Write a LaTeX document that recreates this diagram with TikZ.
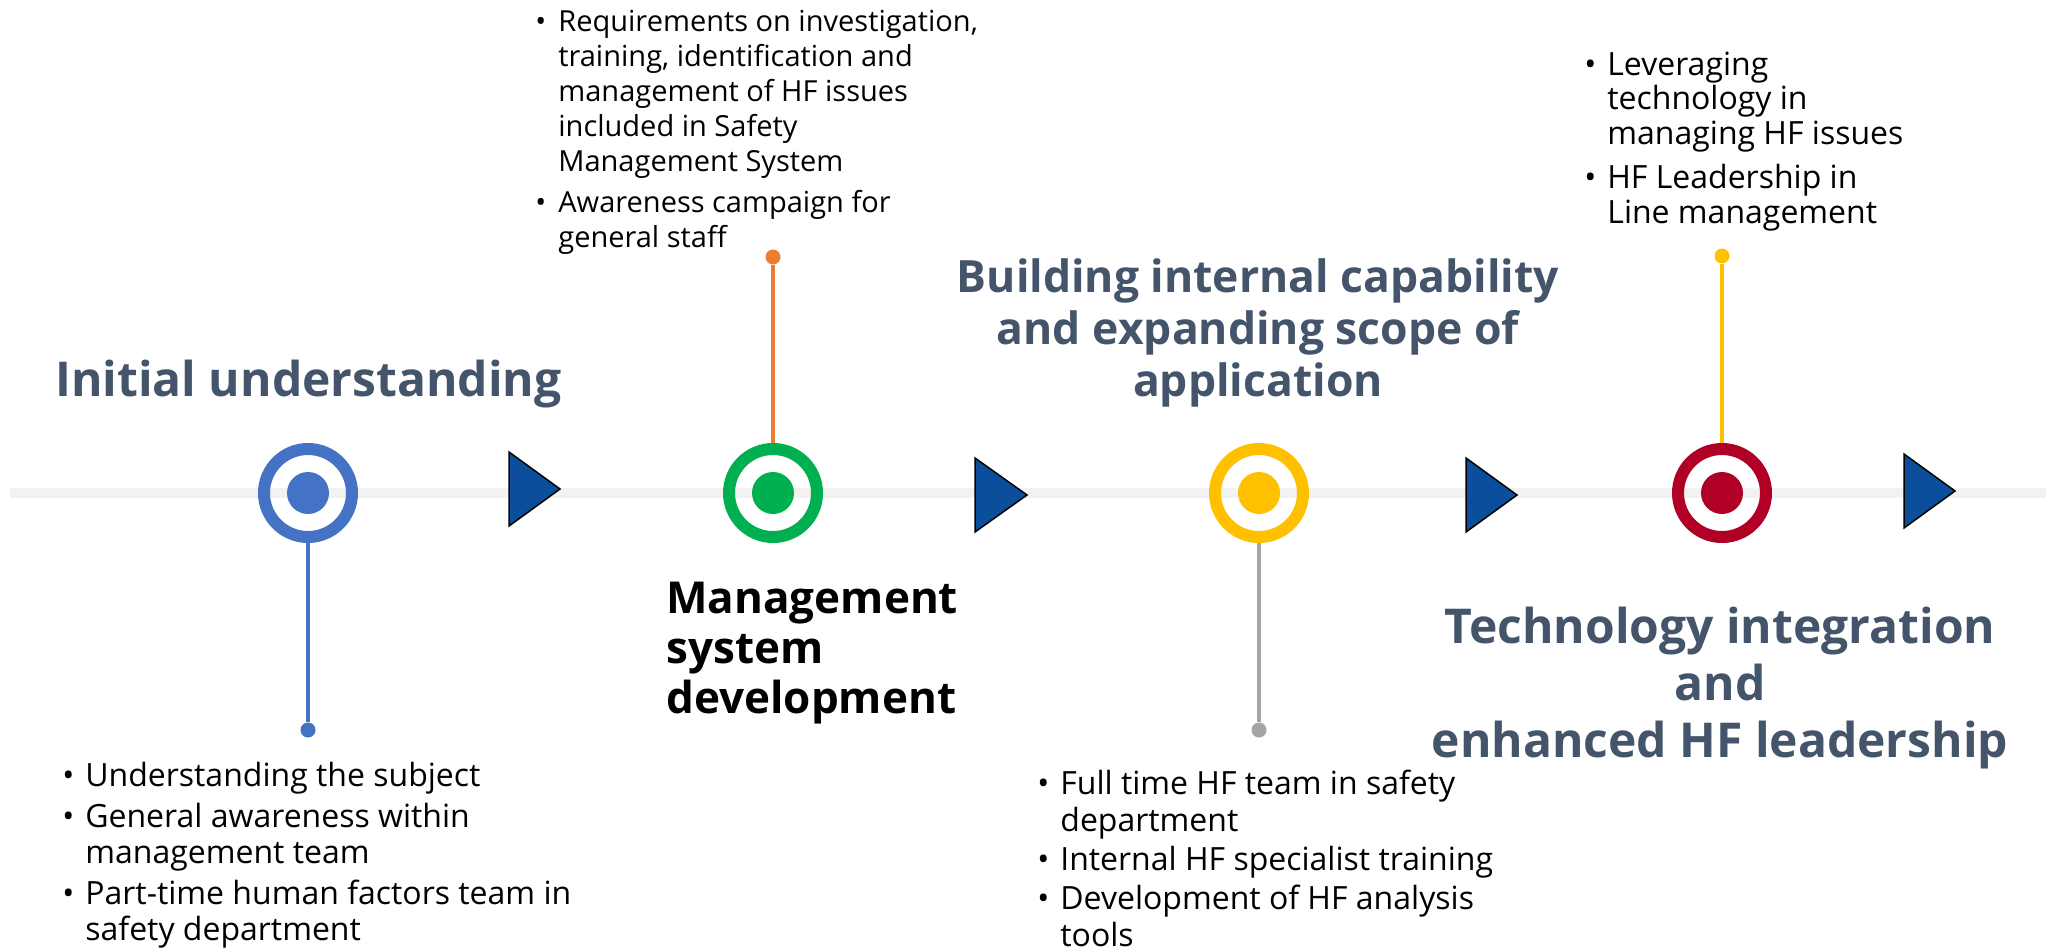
\documentclass[tikz,border=0pt]{standalone}
\usepackage{fontspec}
\setmainfont{Open Sans}

\definecolor{slate}{HTML}{44546A}
\definecolor{ringblue}{HTML}{4472C4}
\definecolor{ringgreen}{HTML}{00B050}
\definecolor{ringgold}{HTML}{FFC000}
\definecolor{ringred}{HTML}{B10026}
\definecolor{stemorange}{HTML}{ED7D31}
\definecolor{stemgray}{HTML}{A5A5A5}
\definecolor{arrowblue}{HTML}{0B4F9C}
\definecolor{track}{HTML}{F2F2F2}

% stacked lines, first baseline is the box baseline
\newdimen\listgap
\newcommand{\centerlines}[2]{\vtop{\baselineskip=#1\lineskiplimit=-100pt\halign{\hfil##\hfil\cr#2\crcr}}}
\newcommand{\leftlines}[2]{\vtop{\baselineskip=#1\lineskiplimit=-100pt\halign{##\hfil\cr#2\crcr}}}
\newcommand{\bulletlist}[3]{\vtop{\baselineskip=#1\listgap=#2\lineskiplimit=-100pt\halign{##&##\hfil\cr#3\crcr}}}
\newcommand{\bul}{\hbox to 23pt{\textbullet\hfil}}
\newcommand{\gap}{\noalign{\vskip\listgap}}

\tikzset{every picture/.style={line width=0.75pt}}
\tikzset{
  headline/.style={inner sep=0pt, text=slate, font=\fontsize{48}{52}\selectfont\bfseries},
  bullets/.style={inner sep=0pt, anchor=base west, text=black, font=\fontsize{32}{36}\selectfont},
  ringnode/.style={circle, draw=#1, line width=12pt, minimum size=88pt, inner sep=0pt},
  hubdot/.style={circle, fill=#1, minimum size=42pt, inner sep=0pt},
  pinhead/.style={circle, fill=#1, minimum size=15pt, inner sep=0pt},
  stemline/.style={draw=#1, line width=4.5pt},
  pointer/.style={fill=arrowblue, draw=black, line width=1.5pt, line join=miter}
}

\begin{document}
\begin{tikzpicture}[x=1pt,y=1pt,yscale=-1,xscale=1]
	\useasboundingbox (0,0) rectangle (2056,950);

	%Straight Lines: time line
	\coordinate (tstart) at (10,493);
	\coordinate (tend) at (2046,493);
	\draw [track, line width=10pt] (tstart) -- (tend);

	%Shape: Triangles
	\draw [pointer] (509,452) -- (560,489) -- (509,526) -- cycle;
	\draw [pointer] (975,458) -- (1027,495) -- (975,532) -- cycle;
	\draw [pointer] (1466,458) -- (1517,495) -- (1466,532) -- cycle;
	\draw [pointer] (1904,454) -- (1955,491) -- (1904,528) -- cycle;

	%Shape: Rings
	\node [ringnode=ringblue] (r1) at (308,493) {};
	\node [hubdot=ringblue] (h1) at (r1) {};
	\node [ringnode=ringgreen] (r2) at (773,493) {};
	\node [hubdot=ringgreen] (h2) at (r2) {};
	\node [ringnode=ringgold] (r3) at (1259,493) {};
	\node [hubdot=ringgold] (h3) at (r3) {};
	\node [ringnode=ringred] (r4) at (1722,493) {};
	\node [hubdot=ringred] (h4) at (r4) {};

	%Shape: Pins
	\node [pinhead=ringblue] (p1) at (308,730) {};
	\node [pinhead=stemorange] (p2) at (773,257) {};
	\node [pinhead=stemgray] (p3) at (1259,730) {};
	\node [pinhead=ringgold] (p4) at (1722,256) {};

	%Straight Lines: stems
	\draw [stemline=ringblue] (r1) -- (p1);
	\draw [stemline=stemorange] (p2) -- (r2);
	\draw [stemline=stemgray] (r3) -- (p3);
	\draw [stemline=ringgold] (p4) -- (r4);

	% Text Node
	\node [headline, anchor=base west] (t1) at (55,396) {Initial understanding};
	% Text Node
	\node [headline, anchor=base west, text=black, font=\fontsize{44}{50}\selectfont\bfseries] (t2) at (666,613) {\leftlines{50pt}{Management\cr system\cr development}};
	% Text Node
	\node [headline, anchor=base, font=\fontsize{44.5}{52}\selectfont\bfseries] (t3) at (1258,292) {\centerlines{52pt}{Building internal capability\cr and expanding scope of\cr application}};
	% Text Node
	\node [headline, anchor=base] (t4) at (1720,643) {\centerlines{57pt}{Technology integration\cr and\cr enhanced HF leadership}};

	% Text Node
	\node [bullets] (b1) at (62,786) {\bulletlist{36pt}{5pt}{\bul & Understanding the subject\cr\gap
		\bul & General awareness within\cr & management team\cr\gap
		\bul & Part-time human factors team in\cr & safety department}};
	% Text Node
	\node [bullets, font=\fontsize{29}{35}\selectfont] (b2) at (535,32) {\bulletlist{35pt}{6pt}{\bul & Requirements on investigation,\cr
		& training, identification and\cr & management of HF issues\cr
		& included in Safety\cr & Management System\cr\gap
		\bul & Awareness campaign for\cr & general staff}};
	% Text Node
	\node [bullets] (b3) at (1037,794) {\bulletlist{37pt}{2pt}{\bul & Full time HF team in safety\cr & department\cr\gap
		\bul & Internal HF specialist training\cr\gap
		\bul & Development of HF analysis\cr & tools}};
	% Text Node
	\node [bullets] (b4) at (1584,75) {\bulletlist{35pt}{9pt}{\bul & Leveraging\cr & technology in\cr & managing HF issues\cr\gap
		\bul & HF Leadership in\cr & Line management}};

\end{tikzpicture}
\end{document}
